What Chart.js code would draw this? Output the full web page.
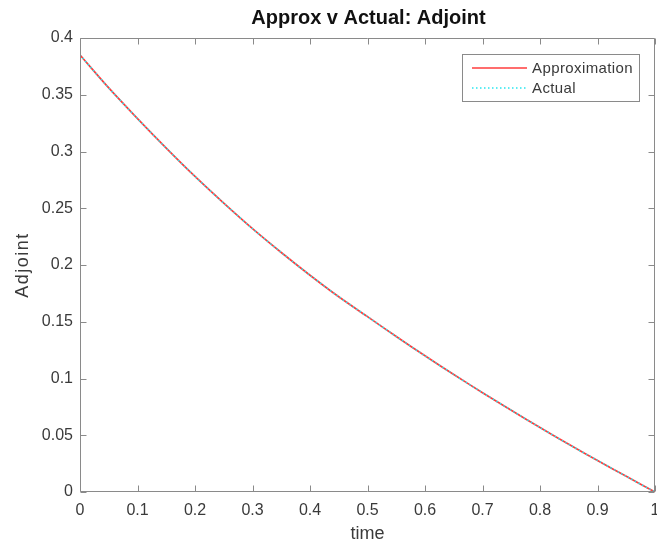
<!DOCTYPE html>
<html>
<head>
<meta charset="utf-8">
<script src="https://cdn.jsdelivr.net/npm/chart.js@4.4.0/dist/chart.umd.min.js"></script>
<style>
  html, body { margin: 0; padding: 0; background: #fff; }
</style>
</head>
<body>
<canvas id="adjointChart" width="657" height="547"></canvas>
<script>
    // values
    const timeValues = [0, 0.05, 0.1, 0.15, 0.2, 0.25, 0.3, 0.35, 0.4, 0.45, 0.5,
                        0.55, 0.6, 0.65, 0.7, 0.75, 0.8, 0.85, 0.9, 0.95, 1];
    const approximation = [0.385, 0.356, 0.329, 0.303, 0.278, 0.2545, 0.232, 0.211, 0.191, 0.172, 0.1545,
                           0.137, 0.120, 0.1035, 0.0875, 0.072, 0.0568, 0.042, 0.0278, 0.0138, 0];
    const actual = [0.385, 0.356, 0.329, 0.303, 0.278, 0.2545, 0.232, 0.211, 0.191, 0.172, 0.1545,
                    0.137, 0.120, 0.1035, 0.0875, 0.072, 0.0568, 0.042, 0.0278, 0.0138, 0];
    const xTicks = [0, 0.1, 0.2, 0.3, 0.4, 0.5, 0.6, 0.7, 0.8, 0.9, 1];
    const yTicks = [0, 0.05, 0.1, 0.15, 0.2, 0.25, 0.3, 0.35, 0.4];

    const fontFamily = '"Liberation Sans", Arial, Helvetica, sans-serif';
    const axisGray = '#8a8a8a';
    const textGray = '#3a3a3a';

    function toPoints(ys) {
        return timeValues.map((t, i) => ({ x: t, y: ys[i] }));
    }

    // MATLAB style frame: box, inward ticks, title, labels and legend
    const matlabFrame = {
        id: 'matlabFrame',
        afterDraw(chart) {
            const ctx = chart.ctx;
            const area = chart.chartArea;
            const xs = chart.scales.x;
            const ys = chart.scales.y;
            const L = Math.round(area.left) + 0.5, R = Math.round(area.right) - 0.5;
            const T = Math.round(area.top) + 0.5, B = Math.round(area.bottom) - 0.5;
            const tick = 6;

            ctx.save();
            ctx.strokeStyle = axisGray;
            ctx.lineWidth = 1;
            ctx.beginPath();
            ctx.rect(L, T, R - L, B - T);
            xTicks.forEach(v => {
                const px = Math.round(xs.getPixelForValue(v)) + 0.5;
                ctx.moveTo(px, B); ctx.lineTo(px, B - tick);
                ctx.moveTo(px, T); ctx.lineTo(px, T + tick);
            });
            yTicks.forEach(v => {
                const py = Math.round(ys.getPixelForValue(v)) + 0.5;
                ctx.moveTo(L, py); ctx.lineTo(L + tick, py);
                ctx.moveTo(R, py); ctx.lineTo(R - tick, py);
            });
            ctx.stroke();

            // title
            ctx.fillStyle = '#111';
            ctx.font = 'bold 20px ' + fontFamily;
            ctx.textAlign = 'center';
            ctx.textBaseline = 'middle';
            ctx.fillText('Approx v Actual: Adjoint', (area.left + area.right) / 2 + 1, 18);

            // axis titles
            ctx.fillStyle = textGray;
            ctx.font = '18px ' + fontFamily;
            ctx.fillText('time', (area.left + area.right) / 2, 534);
            ctx.save();
            ctx.translate(23, (area.top + area.bottom) / 2);
            ctx.rotate(-Math.PI / 2);
            ctx.letterSpacing = '1.5px';
            ctx.fillText('Adjoint', 0, 0);
            ctx.restore();

            // legend
            const lx = 462.5, ly = 54.5, lw = 177, lh = 47;
            ctx.fillStyle = '#fff';
            ctx.fillRect(lx, ly, lw, lh);
            ctx.strokeStyle = axisGray;
            ctx.strokeRect(lx, ly, lw, lh);
            ctx.font = '15px ' + fontFamily;
            ctx.letterSpacing = '0.4px';
            ctx.textAlign = 'left';
            chart.data.datasets.forEach((ds, i) => {
                const y = 68 + i * 20;
                ctx.strokeStyle = ds.borderColor;
                ctx.lineWidth = ds.borderWidth;
                ctx.setLineDash(ds.borderDash || []);
                ctx.beginPath();
                ctx.moveTo(472, y);
                ctx.lineTo(527, y);
                ctx.stroke();
                ctx.setLineDash([]);
                ctx.fillStyle = textGray;
                ctx.fillText(ds.label, 532, y + 1);
            });
            ctx.letterSpacing = '0px';
            ctx.restore();
        }
    };

    const ctx1 = document.getElementById('adjointChart').getContext('2d');

    const adjointChart = new Chart(ctx1, {
        type: 'line',
        data: {
            datasets: [
                {
                    label: 'Approximation',
                    data: toPoints(approximation),
                    borderColor: 'rgb(255, 60, 60)',
                    borderWidth: 1.7,
                    pointRadius: 0,
                    tension: 0.3,
                    order: 2
                },
                {
                    label: 'Actual',
                    data: toPoints(actual),
                    borderColor: 'rgb(40, 230, 240)',
                    borderWidth: 1.6,
                    borderDash: [1.5, 2.5],
                    pointRadius: 0,
                    tension: 0.3,
                    order: 1
                }
            ]
        },
        options: {
            responsive: false,
            animation: false,
            layout: {
                padding: { top: 38, right: 2, left: 0, bottom: 0 }
            },
            plugins: {
                legend: { display: false },
                title: { display: false },
                tooltip: { enabled: false }
            },
            scales: {
                x: {
                    type: 'linear',
                    min: 0,
                    max: 1,
                    grid: { display: false, drawTicks: false },
                    border: { display: false },
                    afterBuildTicks: s => { s.ticks = xTicks.map(v => ({ value: v })); },
                    afterFit: s => { s.height = 55; s.paddingLeft = 0; s.paddingRight = 0; },
                    ticks: {
                        padding: 9,
                        color: textGray,
                        font: { family: fontFamily, size: 16 },
                        maxRotation: 0,
                        callback: v => String(+v.toFixed(2))
                    }
                },
                y: {
                    type: 'linear',
                    min: 0,
                    max: 0.4,
                    grid: { display: false, drawTicks: false },
                    border: { display: false },
                    afterBuildTicks: s => { s.ticks = yTicks.map(v => ({ value: v })); },
                    afterFit: s => { s.width = 80; s.paddingTop = 0; s.paddingBottom = 0; },
                    ticks: {
                        padding: 7,
                        color: textGray,
                        font: { family: fontFamily, size: 16 },
                        callback: v => String(+v.toFixed(2))
                    }
                }
            }
        },
        plugins: [matlabFrame]
    });
</script>
</body>
</html>
